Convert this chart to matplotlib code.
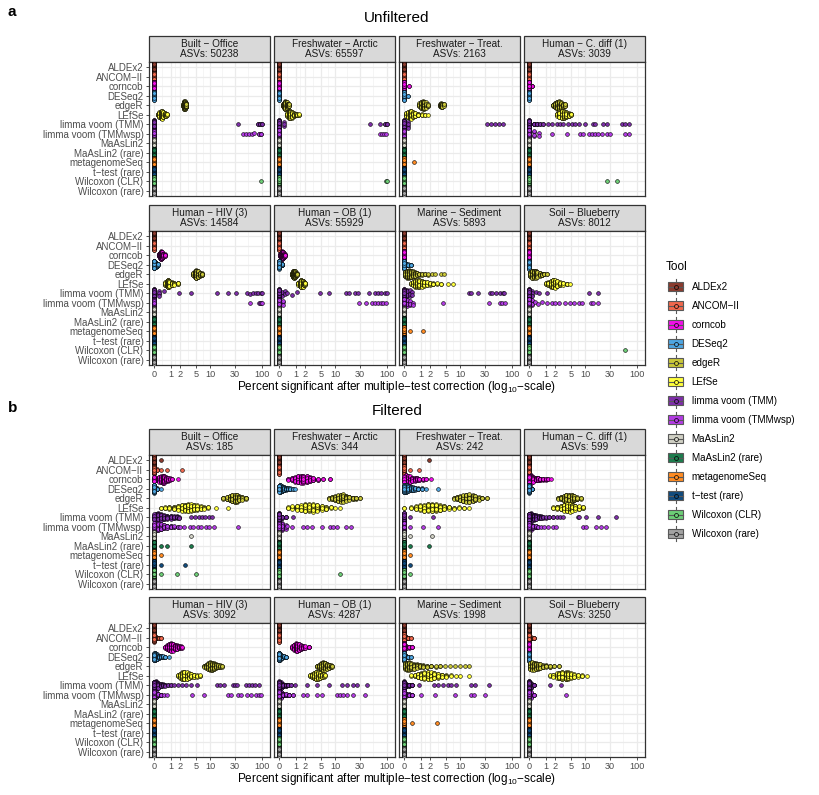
import numpy as np
import matplotlib
matplotlib.use('Agg')
import matplotlib.pyplot as plt
from matplotlib.patches import Rectangle

plt.rcParams['font.family'] = ['Liberation Sans', 'DejaVu Sans']
plt.rcParams['mathtext.fontset'] = 'custom'
plt.rcParams['mathtext.rm'] = 'Liberation Sans'

TOOLS = ['ALDEx2', 'ANCOM-II', 'corncob', 'DESeq2', 'edgeR', 'LEfSe',
         'limma voom (TMM)', 'limma voom (TMMwsp)', 'MaAsLin2', 'MaAsLin2 (rare)',
         'metagenomeSeq', 't-test (rare)', 'Wilcoxon (CLR)', 'Wilcoxon (rare)']
COLORS = ['#8A3B2E', '#F0684D', '#F00FE8', '#4EA6E2', '#C9C73A', '#FFFF3C',
          '#7D2EA8', '#B23BE3', '#D0D0C4', '#1C7C4D', '#FF8B22', '#114B7D',
          '#6CCD76', '#A3A3A3']

FACETS = ['Built - Office', 'Freshwater - Arctic', 'Freshwater - Treat.',
          'Human - C. diff (1)', 'Human - HIV (3)', 'Human - OB (1)',
          'Marine - Sediment', 'Soil - Blueberry']
ASVS_UNFILT = [50238, 65597, 2163, 3039, 14584, 55929, 5893, 8012]
ASVS_FILT = [185, 344, 242, 599, 3092, 4287, 1998, 3250]
X_TICKS = [0, 1, 2, 5, 10, 30, 100]
N_REPS = 100

# percent significant per replicate: (value, count); remaining replicates are 0
u_built_office = {
    'edgeR': [(2.4, 8), (2.5, 15), (2.6, 27), (2.7, 27), (2.8, 15), (2.9, 8)],
    'LEfSe': [(0.15, 6), (0.22, 14), (0.3, 22), (0.38, 22), (0.46, 16), (0.55, 10), (0.65, 6), (0.75, 4)],
    'limma voom (TMM)': [(35, 1), (85, 2), (92, 2), (98, 2)],
    'limma voom (TMMwsp)': [(43, 1), (50, 1), (57, 1), (64, 1), (70, 1), (88, 2), (97, 2)],
    'Wilcoxon (CLR)': [(97, 1)],
}
u_fresh_arctic = {
    'edgeR': [(0.15, 10), (0.22, 20), (0.29, 30), (0.36, 22), (0.44, 12), (0.5, 6)],
    'LEfSe': [(0.4, 10), (0.5, 22), (0.6, 26), (0.7, 18), (0.85, 10), (1.0, 6), (1.15, 5), (1.3, 3)],
    'limma voom (TMM)': [(0.2, 3), (48, 1), (72, 1), (90, 2), (100, 2)],
    'limma voom (TMMwsp)': [(74, 1), (80, 1), (88, 1), (96, 1)],
    'Wilcoxon (CLR)': [(95, 1), (98, 1)],
}
u_fresh_treat = {
    'corncob': [(0.2, 2)],
    'DESeq2': [(0.15, 2)],
    'edgeR': [(0.9, 6), (1.05, 14), (1.2, 20), (1.35, 16), (1.55, 10), (1.8, 4),
              (3.5, 5), (3.8, 10), (4.1, 10), (4.4, 5)],
    'LEfSe': [(0.07, 8), (0.15, 16), (0.25, 20), (0.35, 20), (0.45, 14), (0.6, 10),
              (0.8, 6), (1.1, 3), (1.4, 2), (1.7, 1)],
    'limma voom (TMM)': [(0.15, 4), (34, 1), (40, 1), (48, 1), (56, 1), (66, 1)],
    'metagenomeSeq': [(0.5, 1)],
}
u_cdiff = {
    'corncob': [(0.1, 3)],
    'edgeR': [(1.7, 6), (2.0, 14), (2.3, 24), (2.6, 24), (2.9, 16), (3.2, 10), (3.5, 6)],
    'LEfSe': [(2.2, 8), (2.6, 16), (3.0, 24), (3.4, 22), (3.9, 16), (4.4, 9), (5.0, 5)],
    'limma voom (TMM)': [(0.2, 4), (0.4, 3), (0.6, 2), (0.8, 2), (1.26, 1), (1.6, 1), (2.2, 1),
                         (2.7, 1), (3.3, 1), (4.3, 1), (5.1, 1), (6.1, 1), (7.2, 1), (9.9, 1),
                         (14.5, 1), (15.6, 1), (22.8, 1), (26.5, 1), (51, 1), (59, 1), (69, 1)],
    'limma voom (TMMwsp)': [(0.2, 4), (0.5, 2), (1.6, 1), (3.95, 1), (7.8, 1), (9.1, 1), (11.6, 1),
                            (13.5, 1), (15.6, 1), (18.2, 1), (21.2, 1), (26.5, 1), (31, 1),
                            (59, 1), (69, 1)],
    'Wilcoxon (CLR)': [(27, 1), (42, 1)],
}
u_hiv = {
    'corncob': [(0.2, 10), (0.26, 20), (0.33, 30), (0.4, 22), (0.47, 12), (0.55, 6)],
    'DESeq2': [(0.03, 20), (0.07, 20), (0.11, 15), (0.15, 5)],
    'edgeR': [(4.2, 8), (4.6, 20), (5.0, 30), (5.5, 22), (6.0, 12), (6.7, 8)],
    'LEfSe': [(0.6, 10), (0.7, 20), (0.8, 26), (0.9, 20), (1.1, 12), (1.35, 7), (1.7, 5)],
    'limma voom (TMM)': [(0.2, 4), (0.53, 1), (1.84, 1), (3.7, 1), (13.7, 1), (22.3, 1), (31.5, 1),
                         (52, 1), (58, 1), (66, 1), (75, 1), (85, 1), (95, 1), (100, 1)],
    'limma voom (TMMwsp)': [(58, 1), (86, 1), (92, 1), (97, 1), (100, 1)],
}
u_ob = {
    'corncob': [(0.03, 10), (0.08, 20), (0.13, 28), (0.18, 22), (0.23, 14), (0.28, 6)],
    'DESeq2': [(0.05, 15), (0.1, 10)],
    'edgeR': [(0.7, 10), (0.78, 22), (0.86, 30), (0.94, 22), (1.02, 10), (1.1, 6)],
    'LEfSe': [(1.26, 8), (1.4, 20), (1.55, 30), (1.7, 22), (1.85, 12), (2.0, 8)],
    'limma voom (TMM)': [(0.1, 3), (0.25, 2), (0.4, 1), (0.7, 1), (1.1, 1), (4.7, 1), (7.5, 1),
                         (16.7, 1), (19, 1), (25, 1), (28, 1), (44.6, 1), (59, 1), (66, 1),
                         (75, 1), (90, 1), (98, 1)],
    'limma voom (TMMwsp)': [(0.15, 3), (29, 1), (39, 1), (52, 1), (60, 1), (66, 1), (75, 1),
                            (85, 1), (96, 1)],
}
u_marine = {
    'DESeq2': [(0.05, 15), (0.15, 8), (0.3, 3)],
    'edgeR': [(0.02, 14), (0.1, 16), (0.2, 16), (0.3, 14), (0.42, 11), (0.55, 8), (0.7, 6),
              (0.9, 4), (1.15, 3), (1.4, 2), (1.8, 2), (2.2, 1), (2.7, 1), (3.8, 1), (4.5, 1)],
    'LEfSe': [(0.33, 4), (0.45, 8), (0.6, 12), (0.75, 14), (0.9, 15), (1.1, 13), (1.35, 10),
              (1.6, 8), (1.95, 6), (2.4, 4), (3.0, 2), (3.8, 2), (5.5, 1), (6.9, 1)],
    'limma voom (TMM)': [(0.1, 6), (0.25, 4), (0.4, 2), (14.9, 1), (16.5, 1), (22.3, 1), (38, 1),
                         (42, 1), (50, 1), (58, 1), (66, 1), (70, 1)],
    'limma voom (TMMwsp)': [(0.1, 8), (0.25, 4), (0.45, 2), (4.3, 1), (37, 1), (58, 1), (64, 1), (72, 1)],
    'metagenomeSeq': [(0.28, 1), (1.2, 1)],
}
u_soil = {
    'edgeR': [(0.02, 14), (0.1, 18), (0.2, 20), (0.3, 16), (0.4, 12), (0.55, 9), (0.7, 6), (0.9, 3), (1.1, 2)],
    'LEfSe': [(1.0, 4), (1.25, 10), (1.5, 16), (1.75, 18), (2.0, 18), (2.3, 14), (2.7, 10),
              (3.2, 6), (4.0, 3), (4.8, 1)],
    'limma voom (TMM)': [(0.1, 4), (0.3, 1), (0.5, 1), (1.13, 1), (11.7, 1), (17.9, 1)],
    'limma voom (TMMwsp)': [(0.1, 4), (0.29, 1), (0.45, 1), (0.72, 1), (1.13, 1), (1.65, 1), (2.05, 1),
                            (2.52, 1), (3.68, 1), (4.8, 1), (5.7, 1), (7.3, 1), (8.6, 1),
                            (12.7, 1), (14.1, 1), (17.9, 1)],
    'Wilcoxon (CLR)': [(58, 1)],
}

f_built_office = {
    'ALDEx2': [(0.35, 1)],
    'ANCOM-II': [(0.1, 3), (0.35, 1), (0.72, 1), (2.2, 1)],
    'corncob': [(0.12, 6), (0.22, 10), (0.32, 14), (0.42, 16), (0.52, 14), (0.65, 10), (0.8, 7),
                (0.95, 4), (1.13, 2), (1.72, 1)],
    'DESeq2': [(0.05, 10), (0.12, 6), (0.35, 1)],
    'edgeR': [(18, 4), (21, 8), (24, 13), (27, 16), (30, 18), (33, 16), (37, 12), (42, 8), (49, 5)],
    'LEfSe': [(0.3, 2), (0.6, 3), (0.9, 4), (1.3, 6), (1.7, 8), (2.2, 10), (2.7, 11), (3.2, 12),
              (3.8, 11), (4.5, 10), (5.3, 8), (6.3, 6), (7.5, 4), (9, 3), (13, 1), (22, 1)],
    'limma voom (TMM)': [(0.05, 20), (0.15, 14), (0.3, 12), (0.5, 10), (0.75, 8), (1.0, 6), (1.3, 5),
                         (1.6, 4), (1.84, 3), (3.7, 1), (4.8, 1), (5.7, 1), (6.7, 1), (7.9, 1),
                         (9.3, 1), (10.9, 1)],
    'limma voom (TMMwsp)': [(0.05, 20), (0.15, 14), (0.3, 12), (0.5, 9), (0.75, 7), (1.0, 5), (1.3, 3),
                            (1.7, 2), (2.0, 1), (2.6, 1), (3.5, 1), (4.3, 1), (5.5, 1), (6.5, 1),
                            (8, 1), (9.5, 1), (11.6, 1), (34.5, 1)],
    'MaAsLin2': [(3.7, 1)],
    'MaAsLin2 (rare)': [(0.35, 1), (0.72, 1), (3.8, 1)],
    'metagenomeSeq': [(0.35, 1)],
    't-test (rare)': [(0.35, 1), (2.67, 1)],
    'Wilcoxon (CLR)': [(0.35, 1), (1.65, 1), (4.98, 1)],
}
f_fresh_arctic = {
    'corncob': [(0.47, 3), (0.7, 6), (0.95, 10), (1.2, 13), (1.5, 15), (1.8, 15), (2.2, 13),
                (2.7, 10), (3.3, 7), (4.2, 4), (5.5, 2), (7.8, 2)],
    'DESeq2': [(0.03, 25), (0.1, 20), (0.2, 14), (0.3, 10), (0.45, 7), (0.6, 4), (0.8, 2), (0.96, 1)],
    'edgeR': [(7.5, 3), (8.7, 6), (10, 10), (11.5, 14), (13, 17), (14.5, 16), (16.5, 13), (19, 9),
              (22, 6), (26, 4), (31, 2)],
    'LEfSe': [(0.47, 3), (0.75, 5), (1.1, 8), (1.5, 11), (2.0, 13), (2.6, 14), (3.3, 14), (4.1, 12),
              (5.1, 9), (6.3, 6), (8, 3), (10, 1), (12.5, 1)],
    'limma voom (TMM)': [(0.1, 8), (0.3, 3), (0.82, 1)],
    'limma voom (TMMwsp)': [(0.1, 8), (0.3, 3), (0.37, 1), (0.7, 1), (1.8, 1), (2.2, 1), (3.0, 1),
                            (5.1, 1), (7.8, 1), (9.1, 1), (10.6, 1), (16.4, 1), (20.3, 1)],
    'Wilcoxon (CLR)': [(12.5, 1)],
}
f_fresh_treat = {
    'ALDEx2': [(1.9, 1)],
    'ANCOM-II': [(0.28, 1), (0.9, 1)],
    'corncob': [(0.05, 20), (0.15, 16), (0.25, 13), (0.4, 11), (0.55, 8), (0.7, 6), (0.9, 5),
                (1.2, 3), (1.5, 2), (2.1, 1)],
    'DESeq2': [(0.05, 18), (0.15, 14), (0.3, 12), (0.45, 9), (0.6, 7), (0.8, 5), (1.1, 3),
               (1.5, 1), (3.2, 1)],
    'edgeR': [(7.5, 3), (8.7, 6), (10, 10), (11.5, 13), (13.2, 16), (15.2, 17), (17.5, 14),
              (20, 10), (23, 6), (27, 3), (33, 2)],
    'LEfSe': [(0.0, 2), (0.3, 3), (0.65, 6), (0.95, 9), (1.3, 11), (1.7, 13), (2.2, 13), (2.8, 12),
              (3.5, 10), (4.5, 8), (5.9, 5), (7.5, 3), (9.5, 2), (12, 2), (14.9, 1)],
    'limma voom (TMM)': [(0.28, 1), (2.35, 1)],
    'limma voom (TMMwsp)': [(0.28, 1), (1.2, 1), (3.2, 1)],
    'MaAsLin2': [(0.28, 1), (2.28, 1)],
    'MaAsLin2 (rare)': [(0.28, 1), (1.9, 1)],
    'metagenomeSeq': [(0.28, 1)],
    't-test (rare)': [(0.28, 1)],
    'Wilcoxon (CLR)': [(0.28, 1)],
}
f_cdiff = {
    'corncob': [(0.05, 20), (0.15, 15), (0.3, 12), (0.45, 9), (0.6, 6), (0.8, 4), (1.0, 3),
                (1.2, 2), (1.53, 1)],
    'DESeq2': [(0.05, 10), (0.12, 5)],
    'edgeR': [(2.4, 3), (2.9, 7), (3.4, 13), (3.9, 18), (4.5, 20), (5.1, 17), (5.8, 12), (6.8, 7), (8.2, 3)],
    'LEfSe': [(1.7, 3), (2.2, 6), (2.8, 10), (3.4, 14), (4.0, 17), (4.6, 16), (5.3, 13), (6.1, 10),
              (7.2, 7), (8.8, 4)],
    'limma voom (TMM)': [(0.05, 20), (0.2, 14), (0.35, 10), (0.5, 7), (0.65, 5), (0.8, 3), (1.0, 2),
                         (1.3, 2), (1.7, 2), (2.2, 1), (2.7, 1), (3.2, 1), (6.9, 1), (7.3, 1),
                         (10.3, 1), (17.7, 1), (40, 1)],
    'limma voom (TMMwsp)': [(0.05, 20), (0.15, 12), (0.3, 6), (0.43, 2), (0.65, 1), (0.9, 1), (1.2, 1),
                            (1.72, 1), (2.1, 1), (8.8, 1), (10.3, 1), (16.4, 1), (20.7, 1), (25.9, 1)],
}
f_hiv = {
    'ANCOM-II': [(0.05, 10), (0.2, 3), (0.35, 2)],
    'corncob': [(0.6, 4), (0.75, 10), (0.9, 16), (1.05, 18), (1.2, 16), (1.4, 13), (1.6, 10),
                (1.85, 7), (2.1, 4), (2.3, 2)],
    'DESeq2': [(0.03, 25), (0.1, 18), (0.2, 12), (0.3, 8), (0.45, 5), (0.6, 3), (0.85, 1)],
    'edgeR': [(7.3, 3), (8.0, 8), (8.8, 14), (9.7, 18), (10.6, 18), (11.6, 14), (12.8, 10),
              (14.2, 7), (15.8, 5), (17.1, 3)],
    'LEfSe': [(1.7, 4), (2.0, 10), (2.3, 16), (2.6, 18), (3.0, 16), (3.4, 12), (3.9, 9), (4.5, 7),
              (5.3, 5), (6.2, 3)],
    'limma voom (TMM)': [(0.05, 20), (0.15, 12), (0.3, 8), (0.45, 5), (0.6, 3), (0.8, 2), (1.0, 2),
                         (1.3, 1), (1.7, 1), (2.3, 1), (2.9, 1), (3.8, 1), (5.2, 1), (13.7, 1),
                         (15.5, 1), (18.6, 1), (28, 1), (30.5, 1), (33, 1), (49, 1), (56, 1),
                         (64, 1), (74, 1), (86, 1)],
    'limma voom (TMMwsp)': [(0.05, 20), (0.15, 10), (0.3, 5), (0.49, 1), (0.72, 1), (4.0, 1), (7.3, 1),
                            (22.3, 1), (25.9, 1), (34.5, 1), (40, 1), (51, 1), (61, 1), (76, 1),
                            (86, 1), (96, 1)],
}
f_ob = {
    'corncob': [(0.7, 6), (0.85, 14), (1.0, 20), (1.15, 18), (1.3, 14), (1.5, 11), (1.75, 8),
                (2.05, 5), (2.5, 4)],
    'DESeq2': [(0.03, 20), (0.1, 15), (0.2, 8), (0.3, 4)],
    'edgeR': [(4.0, 4), (4.5, 10), (5.0, 16), (5.5, 20), (6.0, 18), (6.6, 14), (7.3, 10), (8.0, 5), (8.4, 3)],
    'LEfSe': [(2.7, 4), (3.0, 10), (3.4, 16), (3.8, 20), (4.2, 18), (4.7, 14), (5.3, 10), (5.8, 5), (6.1, 3)],
    'limma voom (TMM)': [(0.05, 20), (0.15, 12), (0.3, 7), (0.45, 4), (0.65, 2), (0.95, 1), (2.2, 1),
                         (4.0, 1), (7.2, 1), (13.4, 1), (16.9, 1), (22.8, 1), (26.5, 1), (41.3, 1)],
    'limma voom (TMMwsp)': [(0.05, 20), (0.15, 12), (0.3, 7), (0.5, 4), (0.8, 2), (1.8, 1), (2.2, 1),
                            (4.0, 1), (5.1, 1), (10.6, 1), (12.5, 1), (14.5, 1), (16.9, 1),
                            (22.8, 1), (37.5, 1)],
}
f_marine = {
    'ANCOM-II': [(0.05, 10), (0.15, 5), (0.35, 2)],
    'corncob': [(0.05, 10), (0.2, 6), (0.4, 3)],
    'DESeq2': [(0.05, 10), (0.15, 5), (0.3, 2)],
    'edgeR': [(0.02, 14), (0.1, 14), (0.2, 13), (0.35, 12), (0.5, 10), (0.7, 8), (0.95, 7), (1.25, 5),
              (1.6, 4), (2.1, 3), (2.8, 2), (3.6, 2), (4.6, 1), (6, 1), (7.8, 1), (10, 1),
              (12.5, 1), (15, 1)],
    'LEfSe': [(0.33, 2), (0.55, 4), (0.8, 7), (1.05, 10), (1.35, 13), (1.7, 14), (2.1, 14), (2.6, 12),
              (3.2, 9), (4.0, 6), (5.0, 4), (6.3, 2), (8, 1), (10, 1), (15, 1)],
    'limma voom (TMM)': [(0.05, 15), (0.2, 8), (0.4, 4), (0.9, 1), (2.6, 1), (3.2, 1), (4.2, 1),
                         (5.4, 1), (6.4, 1), (8.2, 1), (16.4, 1), (20, 1), (37, 1)],
    'limma voom (TMMwsp)': [(0.05, 15), (0.2, 8), (0.4, 4), (1.0, 1), (2.7, 1), (7.6, 1), (16.4, 1),
                            (18.5, 1), (31, 1)],
    'metagenomeSeq': [(0.4, 1), (3.0, 1)],
}
f_soil = {
    'ANCOM-II': [(0.05, 8), (0.2, 3)],
    'edgeR': [(0.02, 16), (0.1, 16), (0.2, 15), (0.32, 13), (0.45, 11), (0.6, 9), (0.8, 7), (1.05, 5),
              (1.4, 4), (1.9, 2), (2.5, 2)],
    'LEfSe': [(1.46, 2), (1.8, 5), (2.2, 9), (2.6, 13), (3.1, 16), (3.7, 16), (4.3, 13), (5.0, 10),
              (5.9, 7), (7.0, 5), (8.5, 3), (10.9, 1)],
    'limma voom (TMM)': [(0.05, 10), (0.2, 4), (1.46, 1), (2.8, 1)],
    'limma voom (TMMwsp)': [(0.05, 8), (0.2, 3), (3.7, 1)],
}

unfiltered = [u_built_office, u_fresh_arctic, u_fresh_treat, u_cdiff, u_hiv, u_ob, u_marine, u_soil]
filtered = [f_built_office, f_fresh_arctic, f_fresh_treat, f_cdiff, f_hiv, f_ob, f_marine, f_soil]


def expand(spec):
    vals = []
    for v, c in spec:
        vals += [v] * c
    vals += [0.0] * (N_REPS - len(vals))
    return np.array(vals, dtype=float)


def van_der_corput(n):
    out = np.zeros(n)
    for i in range(1, n + 1):
        k, denom, v = i, 1.0, 0.0
        while k:
            denom *= 2
            k, r = divmod(k, 2)
            v += r / denom
        out[i - 1] = v
    return out


def quasi_offsets(t, width=0.42):
    # quasirandom (vipor-like) spread scaled by the group's density
    n = len(t)
    if np.ptp(t) == 0:
        maxoff = np.full(n, width)
    else:
        sd = t.std(ddof=1)
        q75, q25 = np.percentile(t, [75, 25])
        lo = min(sd, (q75 - q25) / 1.34)
        if lo == 0:
            lo = sd
        bw = 0.9 * lo * n ** -0.2
        dens = np.exp(-0.5 * ((t[:, None] - t[None, :]) / bw) ** 2).mean(axis=1)
        maxoff = dens / dens.max() * width
    ranks = np.empty(n, dtype=int)
    ranks[np.argsort(t, kind='stable')] = np.arange(n)
    return (van_der_corput(n)[ranks] * 2 - 1) * maxoff


W, H = 819, 795
fig = plt.figure(figsize=(W / 100, H / 100), dpi=100)
ov = fig.add_axes([0, 0, 1, 1])
ov.set_xlim(0, W)
ov.set_ylim(H, 0)
ov.axis('off')

col_lefts = [149, 274, 399, 524]
col_w = 121
strip_h = 26
x_lo, x_hi = -0.1, 2.15
tick_t = np.log10(1 + np.array(X_TICKS, dtype=float))
minor_t = (tick_t[:-1] + tick_t[1:]) / 2
grey30 = '#4D4D4D'

panels = [
    ('a', 'Unfiltered', unfiltered, ASVS_UNFILT, [(62, 196), (231, 365)], 12, 18, 387),
    ('b', 'Filtered', filtered, ASVS_FILT, [(455, 589), (623, 757)], 408, 411, 779),
]

for letter, title, data, asvs, rows, ly, ty, xl_y in panels:
    ov.text(8, ly, letter, fontsize=11, fontweight='bold', ha='left', va='center')
    ov.text(397, ty, title, fontsize=11, ha='center', va='center')
    ov.text(397, xl_y, 'Percent significant after multiple\u2212test correction (log$_{\\mathregular{10}}$\u2212scale)',
            fontsize=8.5, ha='center', va='center')
    for k in range(8):
        r, c = divmod(k, 4)
        top, bot = rows[r]
        left = col_lefts[c]
        ax = fig.add_axes([left / W, 1 - bot / H, col_w / W, (bot - top) / H])
        ax.set_xlim(x_lo, x_hi)
        ax.set_ylim(13.55, -0.55)
        for xm in minor_t:
            ax.axvline(xm, color='#F2F2F2', lw=0.5, zorder=0)
        for xt in tick_t:
            ax.axvline(xt, color='#EBEBEB', lw=0.9, zorder=0)
        for yi in range(len(TOOLS)):
            ax.axhline(yi, color='#EBEBEB', lw=0.9, zorder=0)
        spec = data[k]
        for i, tool in enumerate(TOOLS):
            t = np.log10(1 + expand(spec.get(tool, [])))
            off = quasi_offsets(t)
            ax.scatter(t, i + off, s=7.5, c=COLORS[i], edgecolors='black',
                       linewidths=0.4, zorder=3)
        ax.set_xticks(tick_t)
        ax.set_yticks(range(len(TOOLS)))
        if r == 1:
            ax.set_xticklabels([str(v) for v in X_TICKS])
            ax.tick_params(axis='x', length=2.5, width=0.6, color='#333333',
                           labelsize=6.6, labelcolor=grey30, pad=1.0)
        else:
            ax.set_xticklabels([])
            ax.tick_params(axis='x', length=0)
        if c == 0:
            ax.set_yticklabels([tl.replace('-', '\u2212') for tl in TOOLS])
            ax.tick_params(axis='y', length=2.5, width=0.6, color='#333333',
                           labelsize=7, labelcolor=grey30, pad=1.5)
        else:
            ax.set_yticklabels([])
            ax.tick_params(axis='y', length=0)
        for sp in ax.spines.values():
            sp.set_color('#333333')
            sp.set_linewidth(0.9)
        # facet strip
        ov.add_patch(Rectangle((left, top - strip_h), col_w, strip_h, facecolor='#D9D9D9',
                               edgecolor='#333333', lw=0.9))
        ov.text(left + col_w / 2, top - strip_h / 2,
                FACETS[k].replace('-', '\u2212') + '\nASVs: ' + str(asvs[k]),
                fontsize=7.2, color='#1A1A1A', ha='center', va='center', linespacing=1.05)

# legend
ov.text(666, 267, 'Tool', fontsize=8.6, ha='left', va='center')
for i, tool in enumerate(TOOLS):
    yc = 286.7 + 19 * i
    ov.plot([675.5, 675.5], [yc - 7.5, yc + 7.5], color='#595959', lw=0.8, zorder=2)
    ov.add_patch(Rectangle((668, yc - 4.7), 15, 9.4, facecolor=COLORS[i],
                           edgecolor='#595959', lw=0.8, zorder=3))
    ov.plot([668, 683], [yc, yc], color='#595959', lw=0.8, zorder=4)
    ov.scatter([675.5], [yc], s=8, c=COLORS[i], edgecolors='black', linewidths=0.5, zorder=5)
    ov.text(691.7, yc, tool.replace('-', '\u2212'), fontsize=7.1, ha='left', va='center')

fig.savefig('out.png', dpi=100)
